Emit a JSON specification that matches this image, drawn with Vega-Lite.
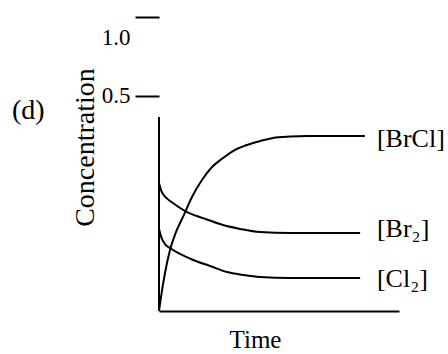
{
  "$schema": "https://vega.github.io/schema/vega-lite/v6.json",
  "width": 240,
  "height": 294,
  "autosize": "none",
  "padding": {"left": 159, "top": 17, "right": 49, "bottom": 43},
  "background": "white",
  "config": {"font": "Liberation Serif", "view": {"stroke": null}},
  "title": {"text": "(d)", "orient": "top", "anchor": "start", "frame": "group", "align": "left", "baseline": "alphabetic", "fontSize": 28, "fontWeight": "normal", "color": "black", "font": "Liberation Serif", "dx": -147, "dy": 135},
  "layer": [
    {
      "data": {"values": [{"c": 0.5}, {"c": 1.0}]},
      "mark": {"type": "tick", "opacity": 0},
      "encoding": {
        "y": {
          "field": "c", "type": "quantitative",
          "scale": {"domain": [-0.861, 1.0], "nice": false, "zero": false},
          "axis": {
            "values": [0.5, 1.0], "orient": "left", "domain": false, "grid": false,
            "ticks": true, "tickSize": 24, "tickWidth": 2, "tickColor": "black",
            "labelFontSize": 23, "labelColor": "black", "labelPadding": 5, "labelFont": "Liberation Serif",
            "labelOffset": {"condition": {"test": "datum.value == 1", "value": 20}, "value": 0},
            "labelFlush": false, "labelOverlap": false, "format": ".1f",
            "title": "Concentration", "titleFontSize": 28, "titleFontWeight": "normal", "titleColor": "black", "titleFont": "Liberation Serif",
            "titleX": -66, "titleY": 130, "titleBaseline": "alphabetic", "titleAlign": "center", "titleAngle": 270
          }
        }
      }
    },
    {
      "layer": [
        {
          "data": {"values": [{"c0": 0, "c1": 1.0}]},
          "mark": {"type": "rule", "stroke": "black", "strokeWidth": 2},
          "encoding": {
            "x": {"datum": 0, "type": "quantitative", "scale": {"domain": [0, 10], "nice": false}},
            "y": {"field": "c0", "type": "quantitative", "scale": {"domain": [0, 1.5155], "nice": false}, "axis": null},
            "y2": {"field": "c1"}
          }
        },
        {
          "data": {"values": [
            {"species": "BrCl", "t": 0, "c": 0},
            {"species": "BrCl", "t": 0.083, "c": 0.072},
            {"species": "BrCl", "t": 0.25, "c": 0.196},
            {"species": "BrCl", "t": 0.458, "c": 0.314},
            {"species": "BrCl", "t": 0.708, "c": 0.407},
            {"species": "BrCl", "t": 1.0, "c": 0.485},
            {"species": "BrCl", "t": 1.375, "c": 0.588},
            {"species": "BrCl", "t": 1.79, "c": 0.675},
            {"species": "BrCl", "t": 2.21, "c": 0.742},
            {"species": "BrCl", "t": 2.67, "c": 0.789},
            {"species": "BrCl", "t": 3.17, "c": 0.83},
            {"species": "BrCl", "t": 3.67, "c": 0.856},
            {"species": "BrCl", "t": 4.21, "c": 0.876},
            {"species": "BrCl", "t": 4.75, "c": 0.892},
            {"species": "BrCl", "t": 5.46, "c": 0.899},
            {"species": "BrCl", "t": 6.17, "c": 0.902},
            {"species": "BrCl", "t": 8.58, "c": 0.902},
            {"species": "Br2", "t": 0, "c": 0.66},
            {"species": "Br2", "t": 0.11, "c": 0.615},
            {"species": "Br2", "t": 0.32, "c": 0.582},
            {"species": "Br2", "t": 0.58, "c": 0.557},
            {"species": "Br2", "t": 1.17, "c": 0.51},
            {"species": "Br2", "t": 1.83, "c": 0.479},
            {"species": "Br2", "t": 2.67, "c": 0.443},
            {"species": "Br2", "t": 3.38, "c": 0.423},
            {"species": "Br2", "t": 4.21, "c": 0.407},
            {"species": "Br2", "t": 5.46, "c": 0.402},
            {"species": "Br2", "t": 8.38, "c": 0.402},
            {"species": "Cl2", "t": 0, "c": 0.423},
            {"species": "Cl2", "t": 0.11, "c": 0.376},
            {"species": "Cl2", "t": 0.25, "c": 0.345},
            {"species": "Cl2", "t": 0.46, "c": 0.325},
            {"species": "Cl2", "t": 0.875, "c": 0.294},
            {"species": "Cl2", "t": 1.42, "c": 0.263},
            {"species": "Cl2", "t": 2.125, "c": 0.232},
            {"species": "Cl2", "t": 2.83, "c": 0.201},
            {"species": "Cl2", "t": 3.5, "c": 0.186},
            {"species": "Cl2", "t": 4.21, "c": 0.175},
            {"species": "Cl2", "t": 5.46, "c": 0.17},
            {"species": "Cl2", "t": 8.38, "c": 0.17}
          ]},
          "mark": {"type": "line", "stroke": "black", "strokeWidth": 2, "interpolate": "monotone"},
          "encoding": {
            "x": {"field": "t", "type": "quantitative", "scale": {"domain": [0, 10], "nice": false},
              "axis": {"domain": true, "domainWidth": 2, "domainColor": "black", "ticks": false, "labels": false, "grid": false,
                "title": "Time", "titleFontSize": 25, "titleFontWeight": "normal", "titleColor": "black", "titleFont": "Liberation Serif",
                "titleX": 96, "titleY": 36, "titleBaseline": "alphabetic", "titleAlign": "center"}},
            "y": {"field": "c", "type": "quantitative", "scale": {"domain": [0, 1.5155], "nice": false}, "axis": null},
            "detail": {"field": "species"}
          }
        },
        {
          "data": {"values": [
            {"label": "[BrCl]", "t": 8.58, "c": 0.845},
            {"label": "[Br₂]", "t": 8.58, "c": 0.381},
            {"label": "[Cl₂]", "t": 8.58, "c": 0.124}
          ]},
          "mark": {"type": "text", "align": "left", "baseline": "alphabetic", "dx": 12, "fontSize": 26, "font": "Liberation Serif", "color": "black"},
          "encoding": {
            "x": {"field": "t", "type": "quantitative", "scale": {"domain": [0, 10], "nice": false}},
            "y": {"field": "c", "type": "quantitative", "scale": {"domain": [0, 1.5155], "nice": false}, "axis": null},
            "text": {"field": "label"}
          }
        }
      ]
    }
  ],
  "resolve": {"scale": {"y": "independent"}, "axis": {"y": "independent"}}
}
